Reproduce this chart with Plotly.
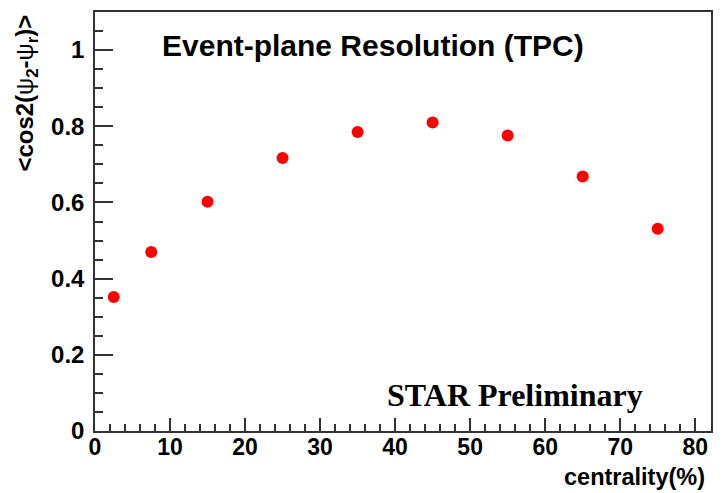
import plotly.graph_objects as go

# Event-plane resolution vs. centrality
centrality = [2.5, 7.5, 15, 25, 35, 45, 55, 65, 75]
resolution = [0.352, 0.470, 0.602, 0.717, 0.785, 0.810, 0.776, 0.668, 0.531]

x_ticks = [0, 10, 20, 30, 40, 50, 60, 70, 80]
y_ticks = [0, 0.2, 0.4, 0.6, 0.8, 1.0]
y_tick_text = ["0", "0.2", "0.4", "0.6", "0.8", "1"]

W, H = 723, 493
ML, MR, MT, MB = 95, 11, 10, 62

sans = dict(family="Liberation Sans, Arial, sans-serif", color="black", weight=700)
axis_color = "#333333"

fig = go.Figure()
fig.add_trace(go.Scatter(
    x=centrality, y=resolution, mode="markers",
    marker=dict(color="#ff0000", size=12, line=dict(width=0)),
    showlegend=False,
))

fig.update_xaxes(
    range=[0, 82.1], tickvals=x_ticks, ticks="inside", ticklen=13, tickwidth=1.5,
    tickcolor=axis_color, showline=True, linecolor=axis_color, linewidth=1.5,
    mirror=True, showgrid=False, zeroline=False,
    tickfont=dict(size=23, **sans), ticklabelstandoff=-5,
    minor=dict(dtick=2, ticks="inside", ticklen=7, tickwidth=1.5, tickcolor=axis_color, showgrid=False),
)
fig.update_yaxes(
    range=[0, 1.1], tickvals=y_ticks, ticktext=y_tick_text, ticks="inside", ticklen=18,
    tickwidth=1.5, tickcolor=axis_color, showline=True, linecolor=axis_color,
    linewidth=1.5, mirror=True, showgrid=False, zeroline=False,
    tickfont=dict(size=24, **sans), ticklabelstandoff=4,
    minor=dict(dtick=0.05, ticks="inside", ticklen=8, tickwidth=1.5, tickcolor=axis_color, showgrid=False),
)

pw, ph = W - ML - MR, H - MT - MB


def px_x(p):
    return (p - ML) / pw


def px_y(p):
    return (H - MB - p) / ph


fig.add_annotation(
    text="Event-plane Resolution (TPC)", xref="paper", yref="paper",
    x=px_x(373), y=px_y(44), xanchor="center", yanchor="middle", showarrow=False,
    font=dict(size=30, **sans),
)
fig.add_annotation(
    text="STAR Preliminary", xref="paper", yref="paper",
    x=px_x(646), y=px_y(395), xanchor="right", yanchor="middle", showarrow=False,
    font=dict(size=32, family="Liberation Serif, Times New Roman, serif", color="black", weight=700),
)
fig.add_annotation(
    text="centrality(%)", xref="paper", yref="paper",
    x=px_x(708), y=px_y(477), xanchor="right", yanchor="middle", showarrow=False,
    font=dict(size=23.5, **sans),
)
psi = '<span style="font-weight:normal">ψ</span>'
fig.add_annotation(
    text=f"&lt;cos2({psi}<sub>2</sub>-{psi}<sub>r</sub>)&gt;", xref="paper", yref="paper",
    x=px_x(26), y=px_y(11), xanchor="center", yanchor="top", showarrow=False,
    textangle=-90, font=dict(size=24, **sans),
)

fig.update_layout(
    width=W, height=H, margin=dict(l=ML, r=MR, t=MT, b=MB),
    paper_bgcolor="white", plot_bgcolor="white",
)

fig.write_html("out.html")
